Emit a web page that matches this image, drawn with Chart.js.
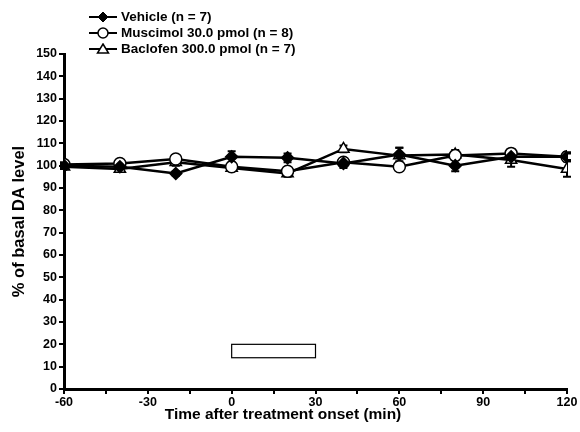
<!DOCTYPE html>
<html>
<head>
<meta charset="utf-8">
<script src="https://cdn.jsdelivr.net/npm/chart.js@4"></script>
<style>
  html, body { margin: 0; padding: 0; background: #fff; }
  #wrap { position: relative; width: 580px; height: 432px; }
  #legend { position: absolute; left: 87px; top: 9px; font: bold 13.5px "Liberation Sans", Arial, sans-serif; color: #000; }
  #legend div { height: 16px; line-height: 16px; display: flex; align-items: center; white-space: nowrap; }
  #legend svg { margin-right: 2px; }
</style>
</head>
<body>
<div id="wrap">
  <canvas id="c" width="580" height="432"></canvas>
  <div id="legend"></div>
</div>
<script>
const times = [-60, -40, -20, 0, 20, 40, 60, 80, 100, 120];
const vehicle = [100, 99.5, 96.5, 104, 103.5, 101, 105, 100, 104, 104];
const vehicleErr = [1, 1, 1, 2.5, 2, 2, 3, 2.5, 2, 2];
const muscimol = [100.5, 101, 103, 99.5, 97.5, 101.5, 99.5, 104.5, 105.5, 104];
const muscimolErr = [1, 1, 1.5, 1, 1, 1.5, 1.5, 1.5, 2, 1.5];
const baclofen = [99.5, 98.5, 101.5, 99, 96.5, 107.5, 104.5, 105, 102.5, 98.5];
const baclofenErr = [1, 1, 1.5, 1.5, 1.5, 1.5, 3.5, 2, 3, 3.5];
const labels = ['Vehicle (n = 7)', 'Muscimol 30.0 pmol (n = 8)', 'Baclofen 300.0 pmol (n = 7)'];
const xTitle = 'Time after treatment onset (min)';
const treatBox = { x0: 0, x1: 30, y0: 14, y1: 20 };

const FONT = "'Liberation Sans', Arial, sans-serif";

function pts(ys) { return times.map((t, i) => ({ x: t, y: ys[i] })); }

const errs = [vehicleErr, muscimolErr, baclofenErr];

const errorBars = {
  id: 'errorBars',
  beforeDatasetsDraw(chart) {
    const ctx = chart.ctx, xs = chart.scales.x, ys = chart.scales.y;
    ctx.save();
    ctx.strokeStyle = '#000';
    ctx.lineWidth = 2;
    chart.data.datasets.forEach((ds, di) => {
      ds.data.forEach((p, i) => {
        const e = errs[di][i];
        const px = xs.getPixelForValue(p.x);
        const top = ys.getPixelForValue(p.y + e), bot = ys.getPixelForValue(p.y - e);
        ctx.beginPath();
        ctx.moveTo(px, top); ctx.lineTo(px, bot);
        ctx.moveTo(px - 4, top); ctx.lineTo(px + 4, top);
        ctx.moveTo(px - 4, bot); ctx.lineTo(px + 4, bot);
        ctx.stroke();
      });
    });
    ctx.restore();
  },
  afterDraw(chart) {
    const ctx = chart.ctx, xs = chart.scales.x, ys = chart.scales.y;
    const l = xs.getPixelForValue(treatBox.x0), r = xs.getPixelForValue(treatBox.x1);
    const t = ys.getPixelForValue(treatBox.y1), b = ys.getPixelForValue(treatBox.y0);
    ctx.save();
    ctx.strokeStyle = '#000';
    ctx.lineWidth = 1.2;
    ctx.strokeRect(l, t, r - l, b - t);
    // x title, centred on the figure rather than the plot area
    ctx.fillStyle = '#000';
    ctx.font = 'bold 15.5px ' + FONT;
    ctx.textAlign = 'center';
    ctx.textBaseline = 'middle';
    ctx.fillText(xTitle, chart.width / 2 - 7, 415);
    ctx.restore();
  }
};

const common = { borderColor: '#000', borderWidth: 2.5, pointBorderColor: '#000', pointBorderWidth: 1.5, tension: 0 };

new Chart(document.getElementById('c'), {
  type: 'line',
  data: {
    datasets: [
      Object.assign({ label: labels[0], data: pts(vehicle), pointStyle: 'rectRot', pointRadius: 6, pointBackgroundColor: '#000' }, common),
      Object.assign({ label: labels[1], data: pts(muscimol), pointStyle: 'circle', pointRadius: 6, pointBackgroundColor: '#fff' }, common),
      Object.assign({ label: labels[2], data: pts(baclofen), pointStyle: 'triangle', pointRadius: 6.5, pointBackgroundColor: '#fff' }, common),
    ]
  },
  options: {
    responsive: false,
    animation: false,
    layout: { padding: { top: 54, right: 13, left: 0, bottom: 0 } },
    plugins: { legend: { display: false }, tooltip: { enabled: false } },
    scales: {
      x: {
        type: 'linear', min: -60, max: 120,
        border: { color: '#000', width: 3 },
        grid: { drawOnChartArea: false, drawTicks: true, tickLength: 5, color: '#000', lineWidth: 2 },
        ticks: {
          stepSize: 15, color: '#000', padding: 1, maxRotation: 0, autoSkip: false,
          font: { family: FONT, size: 12.5, weight: 'bold' },
          callback: v => (v % 30 === 0 ? v : '')
        },
        title: { display: false },
        afterFit: s => { s.height = 43; }
      },
      y: {
        min: 0, max: 150,
        border: { color: '#000', width: 3 },
        grid: { drawOnChartArea: false, drawTicks: true, tickLength: 5, color: '#000', lineWidth: 2 },
        ticks: { stepSize: 10, color: '#000', padding: 2, font: { family: FONT, size: 12.5, weight: 'bold' } },
        title: { display: true, text: '% of basal DA level', color: '#000', padding: { top: 10, bottom: 0 }, font: { family: FONT, size: 16.5, weight: 'bold' } },
        afterFit: s => { s.width = 64; }
      }
    }
  },
  plugins: [errorBars]
});

// HTML legend with drawn markers
const markers = [
  '<polygon points="16,1 21,6 16,11 11,6" fill="#000" stroke="#000"/>',
  '<circle cx="16" cy="6" r="5" fill="#fff" stroke="#000" stroke-width="1.5"/>',
  '<polygon points="16,1 21.5,10 10.5,10" fill="#fff" stroke="#000" stroke-width="1.5"/>'
];
const legend = document.getElementById('legend');
labels.forEach((txt, i) => {
  const row = document.createElement('div');
  row.innerHTML = '<svg width="32" height="12"><line x1="2" y1="6" x2="30" y2="6" stroke="#000" stroke-width="2"/>' + markers[i] + '</svg>';
  row.appendChild(document.createTextNode(txt));
  legend.appendChild(row);
});
</script>
</body>
</html>
